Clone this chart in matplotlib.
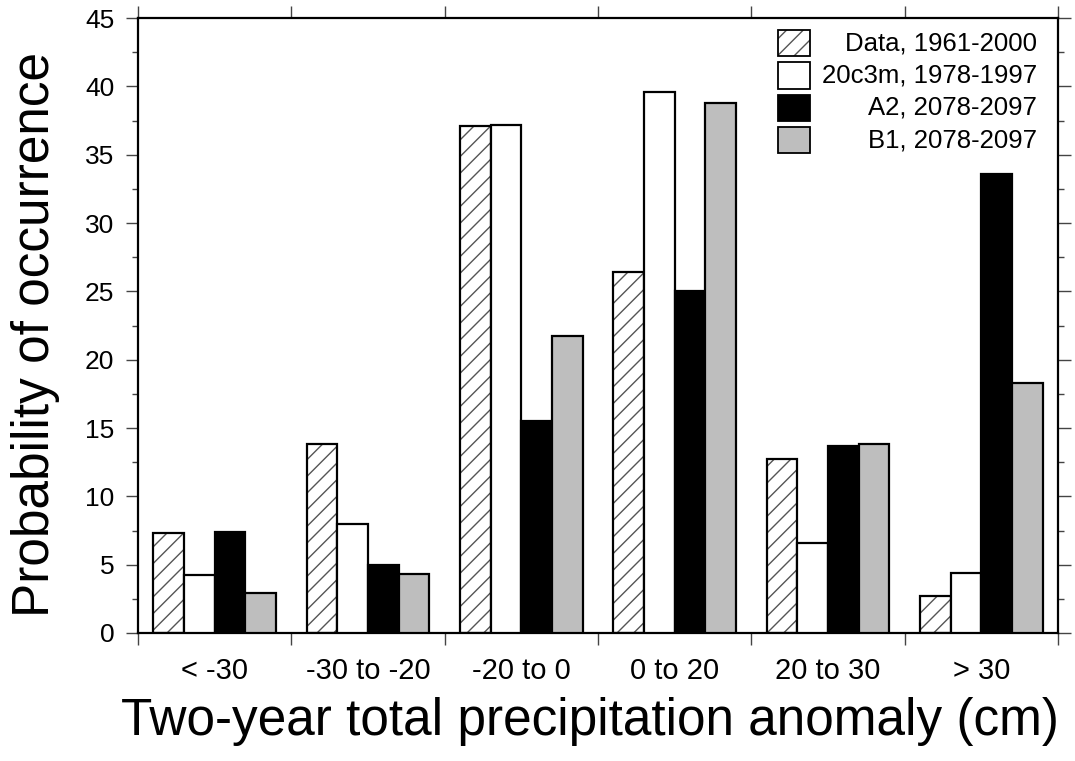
import matplotlib.pyplot as plt
import matplotlib.patches as mpatches
import numpy as np

plt.rcParams['font.family'] = ['Liberation Sans', 'DejaVu Sans']

categories = ['< -30', '-30 to -20', '-20 to 0', '0 to 20', '20 to 30', '> 30']
series_names = ['Data, 1961-2000', '20c3m, 1978-1997', 'A2, 2078-2097', 'B1, 2078-2097']
data_obs = [7.3, 13.8, 37.1, 26.4, 12.7, 2.7]
c20c3m = [4.25, 7.95, 37.2, 39.6, 6.6, 4.4]
a2 = [7.4, 5.0, 15.5, 25.0, 13.7, 33.6]
b1 = [2.95, 4.35, 21.7, 38.8, 13.8, 18.3]

series = [data_obs, c20c3m, a2, b1]
fills = ['white', 'white', 'black', '#bebebe']
hatches = ['//', None, None, None]

fig = plt.figure(figsize=(10.75, 7.61), dpi=100)
ax = fig.add_axes([0.1284, 0.1682, 0.8558, 0.8081])

x = np.arange(len(categories)) + 0.5
width = 0.2
offsets = [-0.3, -0.1, 0.1, 0.3]
for vals, fc, h, off in zip(series, fills, hatches, offsets):
    if h:
        # hatch drawn in grey first, then the black outline on top
        ax.bar(x + off, vals, width, color='white', edgecolor='#555555',
               hatch=h, linewidth=0, zorder=2)
        ax.bar(x + off, vals, width, fill=False, edgecolor='black',
               linewidth=1.6, zorder=3)
    else:
        ax.bar(x + off, vals, width, color=fc, edgecolor='black',
               linewidth=1.6, zorder=3)

ax.set_xlim(0, 6)
ax.set_ylim(0, 45)
ax.set_yticks(np.arange(0, 46, 5))
ax.set_yticks(np.arange(2.5, 45, 5), minor=True)
ax.set_xticks(np.arange(0, 7))
ax.set_xticklabels([])
ax.set_xticks(x, minor=True)
ax.set_xticklabels(categories, minor=True, fontsize=21)
ax.tick_params(axis='x', which='minor', length=0, pad=17)
ax.tick_params(axis='x', which='major', direction='out', length=8.5, width=1,
               top=True, color='#444444')
ax.tick_params(axis='y', which='major', direction='out', length=9, width=1,
               right=True, labelsize=19, pad=8, color='#444444')
ax.tick_params(axis='y', which='minor', direction='out', length=4.5, width=1,
               right=True, color='#444444')
for sp in ax.spines.values():
    sp.set_linewidth(1.6)

ax.set_xlabel('Two-year total precipitation anomaly (cm)', fontsize=37)
ax.set_ylabel('Probability of occurrence', fontsize=37)
ax.xaxis.set_label_coords(0.491, -0.104, transform=ax.transAxes)
ax.yaxis.set_label_coords(-0.085, 0.485, transform=ax.transAxes)

# legend boxes with right-aligned labels
for i, (name, fc, h) in enumerate(zip(series_names, fills, hatches)):
    yc = 0.959 - i * 0.0525
    ax.add_patch(mpatches.Rectangle((0.6957, yc - 0.0211), 0.0348, 0.0423,
                                    transform=ax.transAxes, facecolor=fc,
                                    edgecolor='#555555' if h else 'black',
                                    hatch=h, linewidth=0 if h else 1.3, zorder=4))
    if h:
        ax.add_patch(mpatches.Rectangle((0.6957, yc - 0.0211), 0.0348, 0.0423,
                                        transform=ax.transAxes, fill=False,
                                        edgecolor='black', linewidth=1.3, zorder=5))
    ax.text(0.977, yc, name, transform=ax.transAxes, ha='right', va='center',
            fontsize=18.5)

fig.savefig('out.png', dpi=100)
